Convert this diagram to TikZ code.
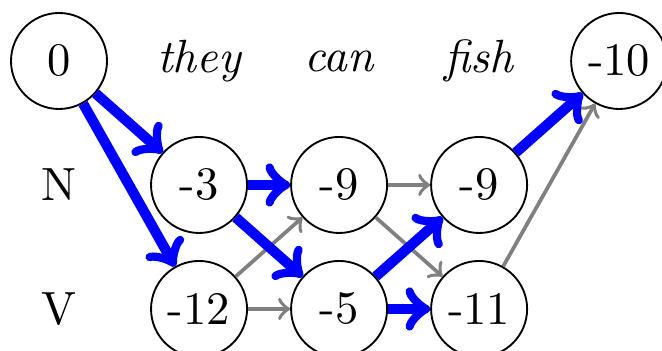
\documentclass[tikz,border=0pt]{standalone}
\usepackage{tikz}
\usetikzlibrary{positioning}
\tikzset{
  state/.style={circle,draw,minimum size=0.724cm,inner sep=1pt},
  word/.style={font=\itshape},
  best/.style={->,draw=blue,line width=2.2pt},
  other/.style={->,draw=gray,thick}
}

\begin{document}
\begin{tikzpicture}[x=1.056cm,y=0.935cm]
  \useasboundingbox (-0.445cm,-2.187cm) rectangle (4.547cm,0.460cm);
  % start / end
  \node[state] (s0) at (0,0) {0};
  \node[state] (e) at (4,0) {-10};
  % words
  \node[word] (w1) at (1,0) {they};
  \node[word] (w2) at (2,0) {can};
  \node[word] (w3) at (3,0) {fish};
  % tags
  \node (tN) at (0,-1) {N};
  \node (tV) at (0,-2) {V};
  % lattice
  \node[state] (n1) at (1,-1) {-3};
  \node[state] (n2) at (2,-1) {-9};
  \node[state] (n3) at (3,-1) {-9};
  \node[state] (v1) at (1,-2) {-12};
  \node[state] (v2) at (2,-2) {-5};
  \node[state] (v3) at (3,-2) {-11};
  % other transitions
  \draw[other] (v1) -- (n2);
  \draw[other] (v1) -- (v2);
  \draw[other] (n2) -- (n3);
  \draw[other] (n2) -- (v3);
  \draw[other] (v3) -- (e);
  % best path
  \draw[best] (s0) -- (n1);
  \draw[best] (s0) -- (v1);
  \draw[best] (n1) -- (n2);
  \draw[best] (n1) -- (v2);
  \draw[best] (v2) -- (n3);
  \draw[best] (v2) -- (v3);
  \draw[best] (n3) -- (e);
\end{tikzpicture}
\end{document}
